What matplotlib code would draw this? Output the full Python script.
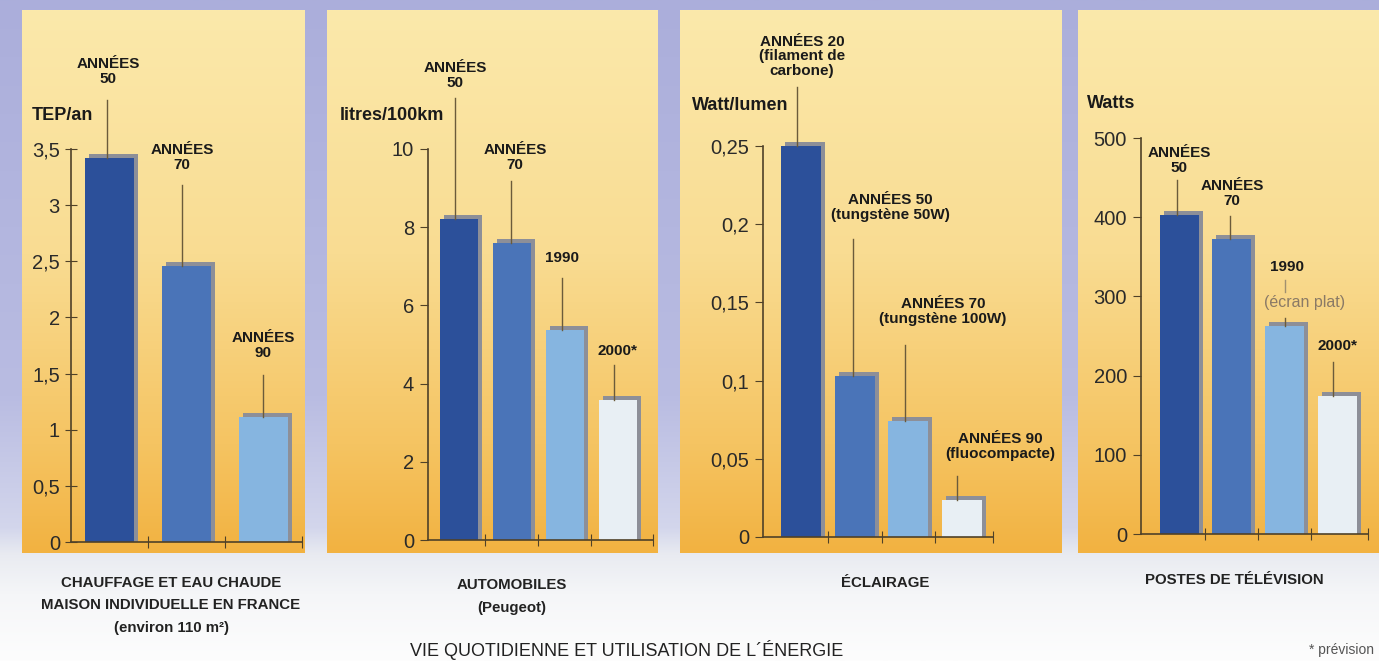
import numpy as np
import matplotlib.pyplot as plt
from matplotlib.colors import LinearSegmentedColormap

plt.rcParams['font.family'] = ['Liberation Sans', 'DejaVu Sans']

# --- data ---
heat_labels = ["ANNÉES\n50", "ANNÉES\n70", "ANNÉES\n90"]
heat_values = [3.42, 2.46, 1.11]
heat_ticks = [0, 0.5, 1, 1.5, 2, 2.5, 3, 3.5]
heat_ticklabels = ["0", "0,5", "1", "1,5", "2", "2,5", "3", "3,5"]

car_labels = ["ANNÉES\n50", "ANNÉES\n70", "1990", "2000*"]
car_values = [8.2, 7.6, 5.37, 3.57]
car_ticks = [0, 2, 4, 6, 8, 10]
car_ticklabels = ["0", "2", "4", "6", "8", "10"]

light_labels = ["ANNÉES 20\n(filament de\ncarbone)", "ANNÉES 50\n(tungstène 50W)",
                "ANNÉES 70\n(tungstène 100W)", "ANNÉES 90\n(fluocompacte)"]
light_values = [0.25, 0.103, 0.074, 0.0235]
light_ticks = [0, 0.05, 0.1, 0.15, 0.2, 0.25]
light_ticklabels = ["0", "0,05", "0,1", "0,15", "0,2", "0,25"]

tv_labels = ["ANNÉES\n50", "ANNÉES\n70", "1990", "2000*"]
tv_note = "(écran plat)"
tv_values = [403, 373, 263, 174]
tv_ticks = [0, 100, 200, 300, 400, 500]
tv_ticklabels = ["0", "100", "200", "300", "400", "500"]

units = ["TEP/an", "litres/100km", "Watt/lumen", "Watts"]
captions = [["CHAUFFAGE ET EAU CHAUDE", "MAISON INDIVIDUELLE EN FRANCE", "(environ 110 m²)"],
            ["AUTOMOBILES", "(Peugeot)"],
            ["ÉCLAIRAGE"],
            ["POSTES DE TÉLÉVISION"]]
title = "VIE QUOTIDIENNE ET UTILISATION DE L´ÉNERGIE"
footnote = "* prévision"

# --- layout (pixels, y from top) ---
W, H = 1379, 661
panels = [(22, 305), (327, 658), (680, 1062), (1078, 1379)]
PANEL_TOP, PANEL_BOTTOM = 10, 553
# y-axis x, x-axis end, y of zero, y of top tick, centre of first bar, bar step, bar width
axes_px = [(71, 302, 542, 149, 109, 77, 49),
           (428, 653, 540, 149, 458.5, 53, 38),
           (763, 993, 537, 146, 801, 53.7, 40),
           (1141, 1368, 534, 138, 1179, 52.8, 39)]
# per label: text centre x, text bottom y, leader x, leader top y
label_px = [[(108, 86, 107, 100), (182, 172, 182, 185), (263, 360, 263, 375)],
            [(455, 90, 455, 98), (515, 172, 511, 181), (562, 265, 562, 278), (617, 358, 614, 365)],
            [(802, 78, 797, 87), (890, 222, 853, 239), (943, 326, 905, 345), (1000, 461, 957, 476)],
            [(1179, 175, 1177, 180), (1232, 208, 1230, 216), (1287, 274, 1285, 318), (1338, 353, 1333, 362)]]
unit_px = [(32, 115), (340, 115), (692, 105), (1087, 104)]
caption_px = [(171, [583, 605, 628]), (512, [585, 608]), (885, [583]), (1234, [580])]

bar_colors = ["#2c509a", "#4a74b8", "#86b5e0", "#e8eff4"]
shadow = "#8d8f98"
axis_col = "#4f4128"
lead_col = "#6b5b3b"
panel_stops = [(0, "#fbe9ab"), (0.45, "#f9dc92"), (0.8, "#f5c462"), (1, "#f2b241")]
frame_stops = [(0, "#abaedb"), (0.6, "#b9bce2"), (0.8, "#d3d6ec"), (0.84, "#e9ebf1"),
               (0.9, "#f5f6f8"), (1, "#fdfdfd")]


def vgrad(stops, n=256):
    cmap = LinearSegmentedColormap.from_list("g", stops)
    return cmap(np.linspace(0, 1, n))[:, None, :3]


fig = plt.figure(figsize=(W / 100, H / 100), dpi=100)
bg = fig.add_axes([0, 0, 1, 1])
bg.imshow(vgrad(frame_stops), extent=(0, W, H, 0), aspect="auto")
for x0, x1 in panels:
    bg.imshow(vgrad(panel_stops), extent=(x0, x1, PANEL_BOTTOM, PANEL_TOP), aspect="auto")
bg.set_xlim(0, W)
bg.set_ylim(H, 0)
bg.axis("off")


def draw_panel(k, values, labels, ticks, ticklabels):
    xa, xe, y0, yt, c0, step, bw = axes_px[k]
    ax = fig.add_axes([xa / W, (H - y0) / H, (xe - xa) / W, (y0 - yt) / H])
    ax.patch.set_alpha(0)
    n = len(values)
    ymax = ticks[-1]
    ppu = (y0 - yt) / ymax
    xmin, xmax = (xa - c0) / step, (xe - c0) / step
    ax.set_xlim(xmin, xmax)
    ax.set_ylim(0, ymax)
    x = np.arange(n)
    vals = np.array(values)
    ax.bar(x + 4 / step, vals + 4 / ppu, bw / step, color=shadow, clip_on=False, zorder=1)
    ax.bar(x, vals, bw / step, color=bar_colors[:n], clip_on=False, zorder=2)

    for i, (tx, tb, lx, lt) in enumerate(label_px[k]):
        lxd = (lx - c0) / step
        ax.plot([lxd, lxd], [vals[i], (y0 - lt) / ppu], color=lead_col, lw=1.0,
                clip_on=False, zorder=3)
        bg.text(tx, tb, labels[i], ha="center", va="bottom", fontsize=11,
                fontweight="bold", color="#1a1a1a", linespacing=1.05, zorder=5)

    for s in ["top", "right"]:
        ax.spines[s].set_visible(False)
    for s in ["left", "bottom"]:
        ax.spines[s].set_color(axis_col)
        ax.spines[s].set_linewidth(1.2)
    ax.set_yticks(ticks, ticklabels)
    ax.tick_params(axis="y", direction="inout" if k == 0 else "out", length=8 if k == 0 else 6,
                   color=axis_col, labelsize=14.5, labelcolor="#2a2a2a", pad=4)
    ax.set_xticks([i + 0.5 for i in range(n - 1)] + [xmax])
    ax.tick_params(axis="x", direction="inout", length=8, color=axis_col, labelbottom=False)

    ux, uy = unit_px[k]
    bg.text(ux, uy, units[k], ha="left", va="center", fontsize=13, fontweight="bold", color="#1a1a1a")
    cx, cys = caption_px[k]
    for line, cy in zip(captions[k], cys):
        bg.text(cx, cy, line, ha="center", va="center", fontsize=10.8, fontweight="bold", color="#222222")
    return ax


draw_panel(0, heat_values, heat_labels, heat_ticks, heat_ticklabels)
draw_panel(1, car_values, car_labels, car_ticks, car_ticklabels)
draw_panel(2, light_values, light_labels, light_ticks, light_ticklabels)
draw_panel(3, tv_values, tv_labels, tv_ticks, tv_ticklabels)

# the flat-screen note sits between "1990" and its bar
bg.text(1305, 303, tv_note, ha="center", va="center", fontsize=11.5, color="#8a7a66")
bg.plot([1285, 1285], [280, 292], color="#a09070", lw=1)

bg.text(627, 650, title, ha="center", va="center", fontsize=13, color="#222222")
bg.text(1374, 650, footnote, ha="right", va="center", fontsize=10, color="#555555")

fig.savefig("out.png", dpi=100)
